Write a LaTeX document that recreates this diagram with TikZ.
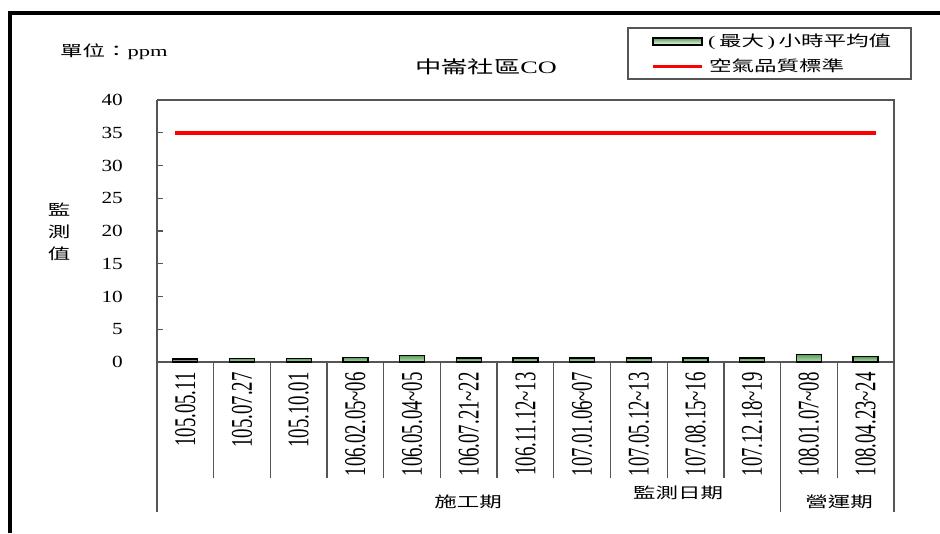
\documentclass[tikz,border=0pt]{standalone}
\usepackage{fontspec}
\setmainfont{Liberation Serif}
\newfontfamily\cjk{Noto Sans CJK TC}
\usetikzlibrary{calc}
\definecolor{barG}{RGB}{85,160,85}
\definecolor{axisG}{RGB}{85,85,85}
\def\colbar[#1](#2)(#3){\draw[#1] ({#2-12.5}, {362-6.55*#3}) rectangle ({#2+12.5}, 362);}
\def\wide#1{\scalebox{1.5}[1]{\cjk #1}}
\def\tall#1{\scalebox{1}[1.6]{#1}}

\begin{document}
\begin{tikzpicture}[x=1pt, y=-1pt,
		cjklab/.style={inner sep=0, font=\fontsize{15}{15}\selectfont},
		ylab/.style={anchor=east, inner sep=0, font=\fontsize{17}{17}\selectfont},
		datelab/.style={rotate=90, anchor=east, inner sep=0, font=\fontsize{18.8}{20}\selectfont},
		axis/.style={line width=1.3, color=axisG},
		colfill/.style={line width=1.3, draw=black, top color=barG, bottom color=barG!35!white},
		redline/.style={line width=4, color=red}]
			%%%%% START %%%%%
			
			\useasboundingbox (0, 0) rectangle (940, 533);
			\draw[line width=4, line join=miter] (9.5, 533) -- (9.5, 13.3) -- (940, 13.3);
			
			\node[cjklab, anchor=west] (unit) at (60, 52) {\wide{單位：}\scalebox{1.5}[1]{ppm}};
			\node[inner sep=0, font=\fontsize{17.5}{17.5}\selectfont] (title) at (486, 67) {\wide{中崙社區}\scalebox{1.5}[1]{CO}};
			
			\draw[line width=1.2, color=axisG] (628, 28) rectangle (911, 79);
			\draw[line width=1.4, draw=black, top color=barG, bottom color=white] (653, 38) rectangle (702, 45);
			\node[cjklab, anchor=west] (lgmax) at (708, 42) {\scalebox{1.5}[1]{(}\hspace{3.5pt}\wide{最大}\hspace{3.5pt}\scalebox{1.5}[1]{)}\hspace{3.5pt}\wide{小時平均值}};
			\draw[line width=3, color=red] (653, 66) -- (702, 66);
			\node[cjklab, anchor=west] (lgstd) at (709, 66) {\wide{空氣品質標準}};
			
			\node[cjklab, align=center, font=\fontsize{15}{22}\selectfont] (yname) at (59, 232) {\wide{監}\\\wide{測}\\\wide{值}};
			
			\draw[axis] (157, 100) -- (894, 100) -- (894, 512);
			\draw[axis] (157, 512) -- (157, 100);
			\draw[axis] (157, 362) -- (894, 362);
			
			\draw[axis] (157, 329.25) -- (163, 329.25);
			\draw[axis] (157, 296.5) -- (163, 296.5);
			\draw[axis] (157, 263.75) -- (163, 263.75);
			\draw[axis] (157, 231) -- (163, 231);
			\draw[axis] (157, 198.25) -- (163, 198.25);
			\draw[axis] (157, 165.5) -- (163, 165.5);
			\draw[axis] (157, 132.75) -- (163, 132.75);
			
			\node[ylab] (y40) at (123, 100) {\scalebox{1.25}[1]{40}};
			\node[ylab] (y35) at (123, 132.75) {\scalebox{1.25}[1]{35}};
			\node[ylab] (y30) at (123, 165.5) {\scalebox{1.25}[1]{30}};
			\node[ylab] (y25) at (123, 198.25) {\scalebox{1.25}[1]{25}};
			\node[ylab] (y20) at (123, 231) {\scalebox{1.25}[1]{20}};
			\node[ylab] (y15) at (123, 263.75) {\scalebox{1.25}[1]{15}};
			\node[ylab] (y10) at (123, 296.5) {\scalebox{1.25}[1]{10}};
			\node[ylab] (y5) at (123, 329.25) {\scalebox{1.25}[1]{5}};
			\node[ylab] (y0) at (123, 362) {\scalebox{1.25}[1]{0}};
			
			\draw[axis] (213.7, 362) -- (213.7, 478);
			\draw[axis] (270.4, 362) -- (270.4, 478);
			\draw[axis] (327.1, 362) -- (327.1, 478);
			\draw[axis] (383.8, 362) -- (383.8, 478);
			\draw[axis] (440.4, 362) -- (440.4, 478);
			\draw[axis] (497.1, 362) -- (497.1, 478);
			\draw[axis] (553.8, 362) -- (553.8, 478);
			\draw[axis] (610.5, 362) -- (610.5, 478);
			\draw[axis] (667.2, 362) -- (667.2, 478);
			\draw[axis] (723.9, 362) -- (723.9, 478);
			\draw[axis] (780.6, 362) -- (780.6, 512);
			\draw[axis] (837.3, 362) -- (837.3, 478);
			
			\colbar[line width=1.3, draw=black, fill=black!45](185.3)(0.45)
			\colbar[colfill](242.0)(0.55)
			\colbar[colfill](298.7)(0.55)
			\colbar[colfill](355.4)(0.7)
			\colbar[colfill](412.1)(1.0)
			\colbar[colfill](468.8)(0.6)
			\colbar[colfill](525.5)(0.6)
			\colbar[colfill](582.2)(0.6)
			\colbar[colfill](638.8)(0.6)
			\colbar[colfill](695.5)(0.6)
			\colbar[colfill](752.2)(0.6)
			\colbar[colfill](808.9)(1.15)
			\colbar[colfill](865.6)(0.8)
			
			\draw[redline] (175.3, 132.75) -- (875.6, 132.75);
			
			\node[datelab] (d1) at (185.3, 372) {\tall{105.05.11}};
			\node[datelab] (d2) at (242.0, 372) {\tall{105.07.27}};
			\node[datelab] (d3) at (298.7, 372) {\tall{105.10.01}};
			\node[datelab] (d4) at (355.4, 372) {\tall{106.02.05\textasciitilde06}};
			\node[datelab] (d5) at (412.1, 372) {\tall{106.05.04\textasciitilde05}};
			\node[datelab] (d6) at (468.8, 372) {\tall{106.07.21\textasciitilde22}};
			\node[datelab] (d7) at (525.5, 372) {\tall{106.11.12\textasciitilde13}};
			\node[datelab] (d8) at (582.2, 372) {\tall{107.01.06\textasciitilde07}};
			\node[datelab] (d9) at (638.8, 372) {\tall{107.05.12\textasciitilde13}};
			\node[datelab] (d10) at (695.5, 372) {\tall{107.08.15\textasciitilde16}};
			\node[datelab] (d11) at (752.2, 372) {\tall{107.12.18\textasciitilde19}};
			\node[datelab] (d12) at (808.9, 372) {\tall{108.01.07\textasciitilde08}};
			\node[datelab] (d13) at (865.6, 372) {\tall{108.04.23\textasciitilde24}};
			
			\node[cjklab] (build) at (468, 502) {\wide{施工期}};
			\node[cjklab] (xname) at (678, 493) {\wide{監測日期}};
			\node[cjklab] (oper) at (839, 502) {\wide{營運期}};
			
			%%%%% END %%%%%
		\end{tikzpicture}
\end{document}
